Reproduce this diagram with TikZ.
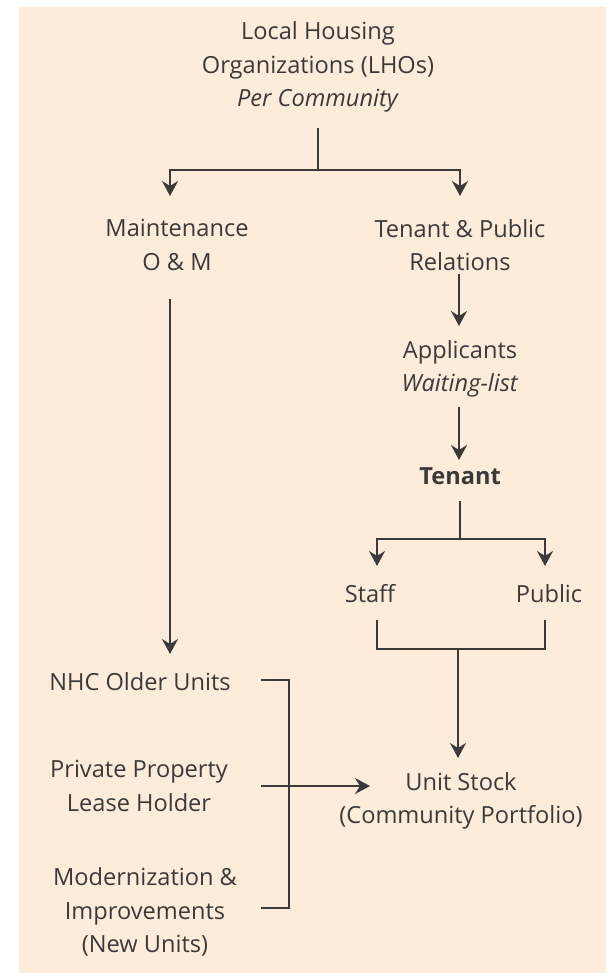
\documentclass[tikz,border=0pt]{standalone}
\usepackage{fontspec}
\setmainfont{Open Sans}
\usetikzlibrary{arrows.meta}
\definecolor{peach}{RGB}{253,236,218}
\definecolor{ink}{RGB}{58,58,58}
\tikzset{
  lbl/.style={text=ink, align=center, inner sep=0pt, font=\fontsize{23.6}{33.5}\selectfont},
  ln/.style={draw=ink, line width=2pt},
  arr/.style={ln, -{Stealth[length=15pt,width=16pt,inset=5pt]}}
}
\begin{document}
\begin{tikzpicture}[x=1pt,y=-1pt]
\useasboundingbox (0,0) rectangle (606,973);
\fill[peach] (19,7) rectangle (606,973);

\node[lbl] (lho) at (318,67) {Local Housing\\Organizations (LHOs)\\\textit{Per Community}};
\node[lbl] (maint) at (177,245) {Maintenance\\O \& M};
\node[lbl] (rel) at (460,245) {Tenant \& Public\\Relations};
\node[lbl] (appl) at (460,369) {Applicants\\\textit{Waiting-list}};
\node[lbl] (tenant) at (460,476) {\textbf{Tenant}};
\node[lbl] (staff) at (370,594) {Staff};
\node[lbl] (public) at (549,594) {Public};
\node[lbl] (nhc) at (140,682) {NHC Older Units};
\node[lbl] (priv) at (139,786) {Private Property\\Lease Holder};
\node[lbl] (mod) at (145,912) {Modernization \&\\Improvements\\(New Units)};
\node[lbl] (stock) at (461,801) {Unit Stock\\(Community Portfolio)};

% top split
\coordinate (t1) at (318,128);
\coordinate (t2) at (318,170);
\coordinate (tL) at (170,196);
\coordinate (tR) at (460,196);
\draw[ln] (t1) -- (t2);
\draw[arr] (t2) -| (tL);
\draw[arr] (t2) -| (tR);

% maintenance down
\coordinate (m1) at (170,299);
\coordinate (m2) at (170,654);
\draw[arr] (m1) -- (m2);

% relations -> applicants -> tenant
\coordinate (r1) at (459,274);
\coordinate (r2) at (459,326);
\draw[arr] (r1) -- (r2);
\coordinate (p1) at (459,407);
\coordinate (p2) at (459,460);
\draw[arr] (p1) -- (p2);

% tenant split
\coordinate (s1) at (460,501);
\coordinate (s2) at (460,539);
\coordinate (sL) at (377,566);
\coordinate (sR) at (545,566);
\draw[ln] (s1) -- (s2);
\draw[arr] (s2) -| (sL);
\draw[arr] (s2) -| (sR);

% staff/public merge
\coordinate (u1) at (377,620);
\coordinate (u2) at (545,620);
\coordinate (u3) at (458,649);
\coordinate (u4) at (458,758);
\draw[ln] (u1) |- (u3) -| (u2);
\draw[arr] (u3) -- (u4);

% bracket
\coordinate (b1) at (261,680);
\coordinate (b2) at (289,680);
\coordinate (b3) at (289,908);
\coordinate (b4) at (261,908);
\draw[ln] (b1) -- (b2) -- (b3) -- (b4);
\coordinate (h1) at (261,786);
\coordinate (h2) at (370,786);
\draw[arr] (h1) -- (h2);
\end{tikzpicture}
\end{document}
